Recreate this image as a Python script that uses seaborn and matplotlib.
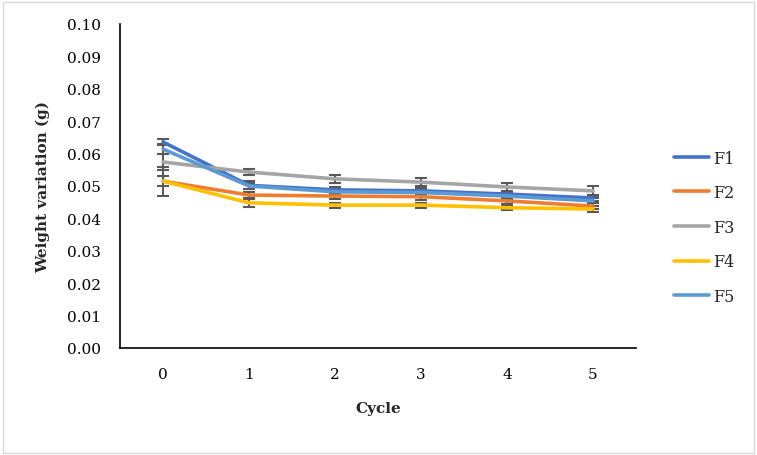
import numpy as np
import pandas as pd
import matplotlib
matplotlib.use("Agg")
import matplotlib.pyplot as plt
import seaborn as sns

cycles = [0, 1, 2, 3, 4, 5]
f1 = [0.0636, 0.0502, 0.0488, 0.0485, 0.0475, 0.0463]
f2 = [0.0515, 0.0472, 0.0469, 0.0467, 0.0454, 0.0438]
f3 = [0.0574, 0.0543, 0.0522, 0.0512, 0.0497, 0.0485]
f4 = [0.0515, 0.0448, 0.0441, 0.0441, 0.0433, 0.0429]
f5 = [0.0614, 0.0500, 0.0482, 0.0480, 0.0469, 0.0454]
err1 = [0.0010, 0.0012, 0.0010, 0.0010, 0.0008, 0.0008]
err2 = [0.0015, 0.0010, 0.0010, 0.0010, 0.0010, 0.0010]
err3 = [0.0025, 0.0010, 0.0012, 0.0012, 0.0012, 0.0015]
err4 = [0.0045, 0.0012, 0.0008, 0.0008, 0.0008, 0.0010]
err5 = [0.0015, 0.0010, 0.0008, 0.0008, 0.0008, 0.0008]

names = ["F1", "F2", "F3", "F4", "F5"]
series = [f1, f2, f3, f4, f5]
errors = [err1, err2, err3, err4, err5]
colors = ["#4472C4", "#ED7D31", "#A5A5A5", "#FFC000", "#5B9BD5"]

df = pd.DataFrame({
    "Cycle": cycles * len(names),
    "value": sum(series, []),
    "series": sum([[n] * len(cycles) for n in names], []),
})

sns.set_style("white")
plt.rcParams["font.family"] = ["DejaVu Serif"]

fig = plt.figure(figsize=(7.57, 4.56), dpi=100)
ax = fig.add_axes([120 / 757, 1 - 349 / 456, 516 / 757, 324 / 456])

# error bars go behind the lines
for vals, errs in zip(series, errors):
    ax.errorbar(cycles, vals, yerr=errs, fmt="none", ecolor="#595959",
                elinewidth=1.5, capsize=4, capthick=1.5, zorder=1)

sns.lineplot(data=df, x="Cycle", y="value", hue="series", palette=colors,
             linewidth=2.6, ax=ax, zorder=3)

ax.set_xlim(-0.5, 5.5)
ax.set_ylim(0, 0.10)
ax.set_xticks(cycles)
ax.set_yticks(np.arange(0, 0.101, 0.01))
ax.yaxis.set_major_formatter(matplotlib.ticker.FormatStrFormatter("%.2f"))
ax.tick_params(axis="both", length=0, labelsize=11, colors="black")
ax.tick_params(axis="x", pad=14)
ax.tick_params(axis="y", pad=14)
for s in ["top", "right"]:
    ax.spines[s].set_visible(False)
for s in ["left", "bottom"]:
    ax.spines[s].set_color("black")
    ax.spines[s].set_linewidth(1.2)

ax.set_xlabel("Cycle", fontsize=11, fontweight="bold", labelpad=14)
ax.set_ylabel("Weight variation (g)", fontsize=11, fontweight="bold", labelpad=12)

leg = ax.legend(title=None, loc="center left", bbox_to_anchor=(1.045, 0.373),
                frameon=False, fontsize=11.5, handlelength=2.2,
                labelspacing=1.1, handletextpad=0.3)
for h in leg.get_lines():
    h.set_linewidth(2.6)

fig.patches.append(plt.Rectangle((0.004, 0.004), 0.992, 0.99, transform=fig.transFigure,
                                 fill=False, edgecolor="#D9D9D9", linewidth=1))

fig.savefig("out.png", dpi=100)
